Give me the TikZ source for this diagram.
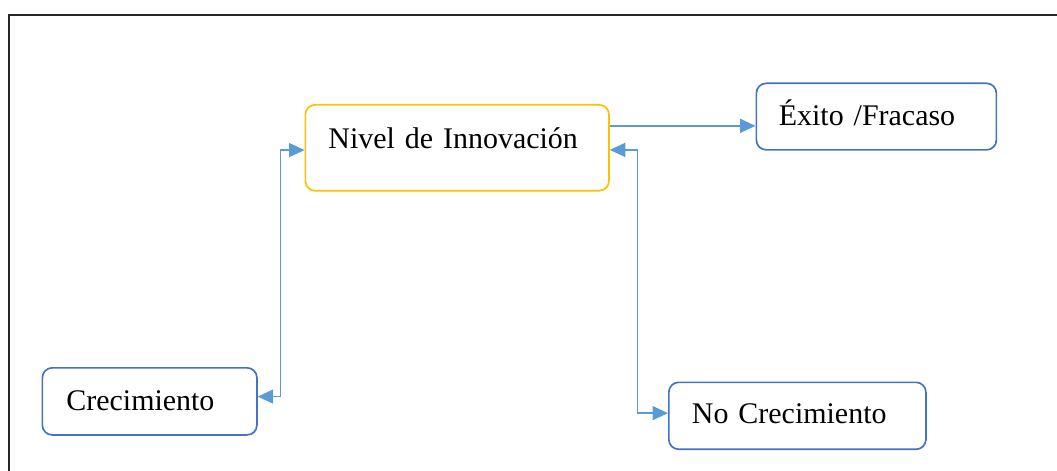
\documentclass[tikz,border=0pt]{standalone}
\usepackage{fontspec}
\setmainfont{Liberation Serif}
\usetikzlibrary{arrows.meta, positioning}
\definecolor{boxblue}{HTML}{4472C4}
\definecolor{boxgold}{HTML}{FFC000}
\definecolor{linkblue}{HTML}{5B9BD5}

\begin{document}
\begin{tikzpicture}[x=0.025cm, y=-0.025cm,
  box/.style={draw=boxblue, line width=1.2pt, rounded corners=7pt, anchor=north west,
    inner ysep=0pt, align=left, font=\fontsize{21.3}{26}\selectfont},
  link/.style={draw=linkblue, line width=1pt, >={Triangle[length=11pt,width=10pt]}}]
\useasboundingbox (0,0) rectangle (1057,471);
\draw[black!85, line width=1.4pt] (9,480) -- (9,15) -- (1065,15);
\node[box, draw=boxgold, inner xsep=16.4pt, text width=183.1pt, text height=30.9pt, text depth=30.2pt]
  (nivel) at (304.5,104) {Nivel de Innovación};
\node[box, inner xsep=16pt, text width=138.7pt, text height=30.2pt, text depth=17.1pt]
  (exito) at (755.5,82.5) {Éxito /Fracaso};
\node[box, inner xsep=17.1pt, text width=118.4pt, text height=30.6pt, text depth=17.1pt]
  (crec) at (41.5,367) {Crecimiento};
\node[box, inner xsep=16.4pt, text width=150pt, text height=29.5pt, text depth=18.1pt]
  (nocrec) at (668,381.5) {No Crecimiento};
% links
\draw[link,->] ([yshift=15.6pt]nivel.east) -- ([yshift=15.6pt]nivel.east -| exito.west);
\draw[link,<->] ([yshift=3.4pt]crec.east) -| ([xshift=-17.1pt,yshift=-1.6pt]nivel.west) -- ([yshift=-1.6pt]nivel.west);
\draw[link,<->] ([yshift=-1.5pt]nivel.east) -| ([xshift=-21.7pt,yshift=1.9pt]nocrec.west) -- ([yshift=1.9pt]nocrec.west);
\end{tikzpicture}
\end{document}
